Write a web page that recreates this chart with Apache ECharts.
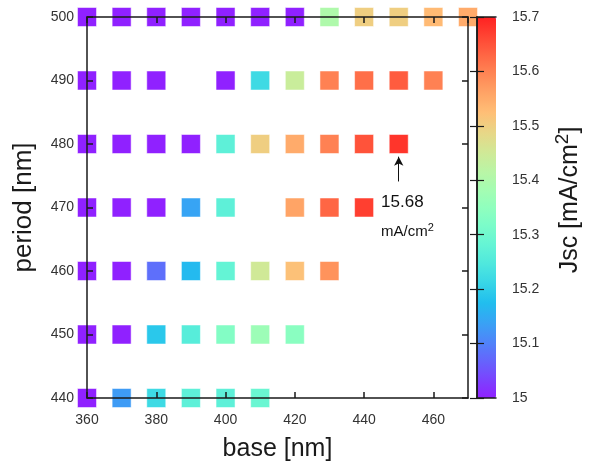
<!DOCTYPE html>
<html><head><meta charset="utf-8">
<script src="https://cdn.jsdelivr.net/npm/echarts@6/dist/echarts.min.js"></script>
<style>html,body{margin:0;padding:0;background:#fff}#c{width:591px;height:463px}</style>
</head><body><div id="c"></div>
<script>
const baseNm = [360, 370, 380, 390, 400, 410, 420, 430, 440, 450, 460, 470];
const periodNm = [440, 450, 460, 470, 480, 490, 500];
const jsc440 = [15.0, 15.13, 15.22, 15.27, 15.27, 15.29, null, null, null, null, null, null];
const jsc450 = [15.0, 14.9, 15.19, 15.26, 15.33, 15.37, 15.34, null, null, null, null, null];
const jsc460 = [15.0, 15.0, 15.08, 15.17, 15.28, 15.45, 15.52, 15.58, null, null, null, null];
const jsc470 = [15.0, 15.0, 15.0, 15.14, 15.27, null, 15.56, 15.63, 15.67, null, null, null];
const jsc480 = [15.0, 15.0, 15.0, 15.0, 15.27, 15.50, 15.55, 15.60, 15.65, 15.68, null, null];
const jsc490 = [15.0, 15.0, 15.0, null, 15.0, 15.22, 15.44, 15.60, 15.62, 15.64, 15.60, null];
const jsc500 = [15.0, 15.0, 15.0, 15.0, 15.0, 15.0, 15.0, 15.40, 15.50, 15.50, 15.53, 15.55];
const jscRows = [jsc440, jsc450, jsc460, jsc470, jsc480, jsc490, jsc500];
const jscMin = 15.0, jscMax = 15.7;
const peak = {base: 450, period: 480, text: '15.68', unit: 'mA/cm{s|2}'};

// matplotlib "rainbow" colormap, lightly blended with white
function rainbow(t, a) {
  const r = Math.min(1, Math.abs(2 * t - 0.5));
  const g = Math.sin(Math.PI * t);
  const b = Math.cos(Math.PI * t / 2);
  const h = v => Math.round((a * v + (1 - a)) * 255).toString(16).padStart(2, '0');
  return '#' + h(r) + h(g) + h(b);
}
const stops = [];
for (let i = 0; i <= 20; i++) stops.push(rainbow(i / 20, 0.87));

const data = [];
jscRows.forEach((row, j) => row.forEach((v, i) => {
  if (v !== null) data.push([baseNm[i], periodNm[j], v]);
}));

const chart = echarts.init(document.getElementById('c'));
const font = 'Liberation Sans, Arial, sans-serif';
const lineC = '#1a1a1a';
const frame = {show: true, lineStyle: {color: lineC, width: 1.5}};
chart.setOption({
  animation: false,
  grid: [
    {left: 87, top: 17, width: 381, height: 381, outerBoundsMode: 'none', containLabel: false},
    {left: 477, top: 17, width: 19, height: 381, outerBoundsMode: 'none', containLabel: false}
  ],
  xAxis: [
    {type: 'value', gridIndex: 0, min: 360, max: 470, interval: 20, z: 5,
     axisLine: frame, splitLine: {show: false},
     axisTick: {inside: true, length: 6, lineStyle: {color: lineC, width: 1.5}},
     axisLabel: {fontSize: 14, color: '#333', margin: 15, fontFamily: font, showMaxLabel: false},
     name: 'base [nm]', nameLocation: 'middle', nameGap: 39,
     nameTextStyle: {fontSize: 25, color: '#1a1a1a', fontFamily: font}},
    {type: 'value', gridIndex: 0, position: 'top', min: 360, max: 470, interval: 20, z: 5,
     axisLine: frame, splitLine: {show: false},
     axisTick: {inside: true, length: 6, lineStyle: {color: lineC, width: 1.5}},
     axisLabel: {show: false}},
    {type: 'value', gridIndex: 1, min: 0, max: 1, z: 5, axisLine: frame,
     axisTick: {show: false}, axisLabel: {show: false}, splitLine: {show: false}},
    {type: 'value', gridIndex: 1, position: 'top', min: 0, max: 1, z: 5, axisLine: frame,
     axisTick: {show: false}, axisLabel: {show: false}, splitLine: {show: false}}
  ],
  yAxis: [
    {type: 'value', gridIndex: 0, min: 440, max: 500, interval: 10, z: 5,
     axisLine: frame, splitLine: {show: false},
     axisTick: {inside: true, length: 6, lineStyle: {color: lineC, width: 1.5}},
     axisLabel: {fontSize: 14, color: '#333', margin: 13, fontFamily: font},
     name: 'period [nm]', nameLocation: 'middle', nameGap: 50,
     nameTextStyle: {fontSize: 26, color: '#1a1a1a', fontFamily: font}},
    {type: 'value', gridIndex: 0, position: 'right', min: 440, max: 500, interval: 10, z: 5,
     axisLine: frame, splitLine: {show: false},
     axisTick: {inside: true, length: 6, lineStyle: {color: lineC, width: 1.5}},
     axisLabel: {show: false}},
    {type: 'value', gridIndex: 1, position: 'right', min: jscMin, max: jscMax, interval: 0.1, z: 5,
     axisLine: frame, splitLine: {show: false},
     axisTick: {inside: true, length: 7, lineStyle: {color: lineC, width: 1.2}},
     axisLabel: {fontSize: 14, color: '#333', margin: 16, fontFamily: font,
                 formatter: v => String(Math.round(v * 10) / 10)}},
    {type: 'value', gridIndex: 1, position: 'left', min: jscMin, max: jscMax, interval: 0.1, z: 5,
     axisLine: frame, splitLine: {show: false},
     axisTick: {inside: true, length: 7, lineStyle: {color: lineC, width: 1.2}},
     axisLabel: {show: false}}
  ],
  visualMap: {
    type: 'continuous', min: jscMin, max: jscMax, dimension: 2, seriesIndex: 0,
    left: 477, top: 17, itemWidth: 19, itemHeight: 381, padding: 0,
    calculable: false, text: null, showLabel: false,
    inRange: {color: stops}, outOfRange: {color: '#6a22ff'}
  },
  graphic: [{
    type: 'text', x: 570, y: 200, rotation: Math.PI / 2,
    style: {text: 'Jsc [mA/cm{s|2}]', font: '25px ' + font, fill: '#1a1a1a',
            align: 'center', verticalAlign: 'middle',
            rich: {s: {fontSize: 19, fontFamily: font, fill: '#1a1a1a', padding: [0, 0, 14, 0]}}}
  }],
  series: [{
    type: 'scatter', xAxisIndex: 0, yAxisIndex: 0, symbol: 'rect', symbolSize: 19,
    clip: false, data: data,
    itemStyle: {opacity: 1, borderColor: 'rgba(255,255,255,0.5)', borderWidth: 1},
    markLine: {
      silent: true, symbol: ['none', 'arrow'], symbolSize: [7, 9],
      lineStyle: {color: '#111', width: 1, type: 'solid'}, label: {show: false},
      data: [[{coord: [peak.base, peak.period - 5.9]}, {coord: [peak.base, peak.period - 2.0]}]]
    },
    markPoint: {
      silent: true, symbol: 'rect', symbolSize: 0,
      data: [
        {coord: [444.9, peak.period - 9.2], label: {show: true, formatter: peak.text, position: 'inside',
          align: 'left', fontSize: 17, color: '#111', fontFamily: font}},
        {coord: [444.9, peak.period - 13.8], label: {show: true, formatter: peak.unit, position: 'inside',
          align: 'left', fontSize: 15, color: '#111', fontFamily: font,
          rich: {s: {fontSize: 11, color: '#111', fontFamily: font, padding: [0, 0, 7, 0]}}}}
      ]
    }
  }]
});
</script></body></html>
